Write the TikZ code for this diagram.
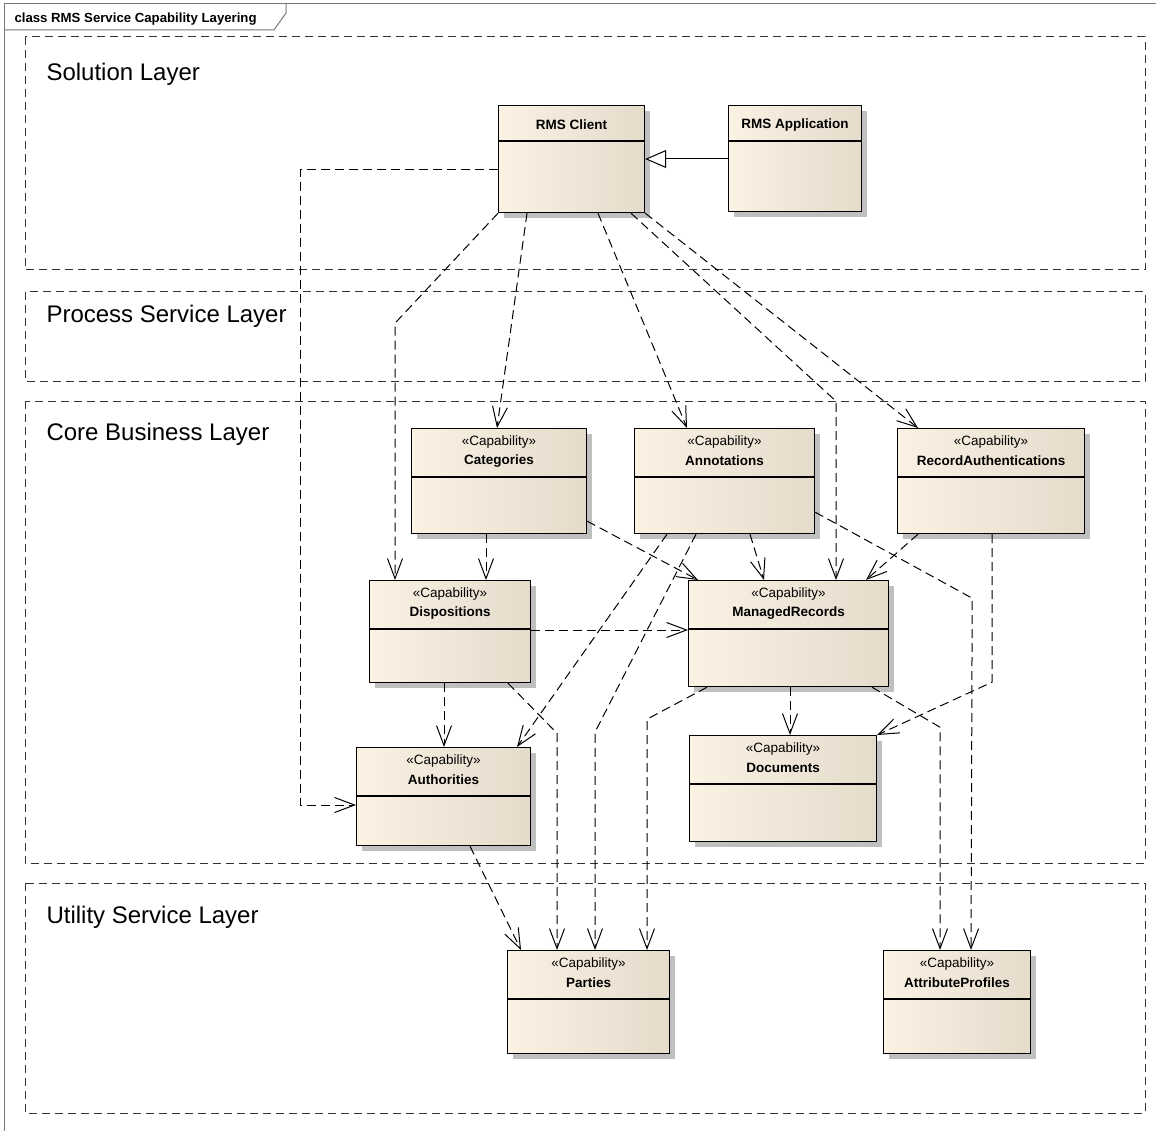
\documentclass[tikz,border=0pt]{standalone}
\usepackage{fontspec}
\setmainfont{Liberation Sans}
\usetikzlibrary{arrows.meta,shadows,calc,positioning}
\definecolor{boxlight}{RGB}{251,242,228}
\definecolor{boxdark}{RGB}{229,219,203}
\definecolor{framegray}{RGB}{120,120,120}

\begin{document}
\begin{tikzpicture}[x=1pt,y=-1pt,line join=round,
	layer/.style={draw=black!80,line width=1pt,dash pattern=on 8pt off 5pt},
	layertext/.style={anchor=base west,font=\fontsize{24}{28}\selectfont},
	classbox/.style={draw,line width=1.2pt,left color=boxlight,right color=boxdark,anchor=north west,inner sep=0pt,
		drop shadow={shadow xshift=5pt,shadow yshift=-5pt,fill=black!25,opacity=1}},
	stereo/.style={font=\fontsize{13.5}{15}\selectfont},
	cname/.style={font=\bfseries\fontsize{13.5}{15}\selectfont},
	dep/.style={line width=1pt,dash pattern=on 9pt off 5pt,-{Straight Barb[length=20pt,width=15pt]}},
	gen/.style={line width=1pt,-{Triangle[open,length=21pt,width=18pt,fill=white]}}]
		\useasboundingbox (0,0) rectangle (1156,1131);
		% frame
		\draw[framegray,line width=1pt] (4,1131) -- (4,4) -- (1156,4);
		\draw[framegray,line width=1pt] (4,30) -- (274,30) -- (286,13) -- (286,4);
		\node[anchor=base west,font=\bfseries\fontsize{13.2}{15}\selectfont] (title) at (11,23) {class RMS Service Capability Layering};
		% layers
		\draw[layer] (25,37) rectangle (1145,270);
		\draw[layer] (25,292) rectangle (1145,381);
		\draw[layer] (25,401) rectangle (1145,863);
		\draw[layer] (25,883) rectangle (1145,1113);
		\node[layertext] (solL) at (43,81) {Solution Layer};
		\node[layertext] (proL) at (43,323) {Process Service Layer};
		\node[layertext] (corL) at (43,440) {Core Business Layer};
		\node[layertext] (utiL) at (43,923) {Utility Service Layer};
		% classes
		\foreach \n/\x/\y/\w/\h/\t in {cli/498/105/146/107/RMS Client, app/728/105/133/106/RMS Application}{
			\node[classbox,minimum width={\w pt},minimum height={\h pt}] (\n) at (\x,\y) {};
			\draw[line width=1.1pt] ([yshift=-36pt]\n.north west) -- ([yshift=-36pt]\n.north east);
			\node[cname] at ([yshift=-20pt]\n.north) {\t};
		}
		\foreach \n/\x/\y/\w/\h/\t in {cat/411/428/175/105/Categories, ann/634/428/180/105/Annotations,
			rau/897/428/187/105/RecordAuthentications, dis/369/580/161/102/Dispositions,
			mrc/688/580/200/106/ManagedRecords, aut/356/747/174/98/Authorities,
			doc/689/735/187/106/Documents, par/507/950/162/103/Parties, atp/883/950/147/103/AttributeProfiles}{
			\node[classbox,minimum width={\w pt},minimum height={\h pt}] (\n) at (\x,\y) {};
			\draw[line width=1.1pt] ([yshift=-49pt]\n.north west) -- ([yshift=-49pt]\n.north east);
			\node[stereo] at ([yshift=-14pt]\n.north) {«Capability»};
			\node[cname] at ([yshift=-33pt]\n.north) {\t};
		}
		% connectors
		\draw[gen] ([yshift=-54pt]app.north west) -- ([yshift=-54pt]cli.north east);
		\draw[dep] ([yshift=-65pt]cli.north west) -- ++(-198,0) |- ([yshift=-58pt]aut.north west);
		\draw[dep] (cli.south west) -- ++(-103,110) -- ([xshift=26pt]dis.north west);
		\draw[dep] ([xshift=29pt]cli.south west) -- ([xshift=86pt]cat.north west);
		\draw[dep] ([xshift=100pt]cli.south west) -- ([xshift=53pt]ann.north west);
		\draw[dep] ([xshift=133pt]cli.south west) -- ++(205,188) -- ([xshift=148pt]mrc.north west);
		\draw[dep] (cli.south east) -- ([xshift=21pt]rau.north west);
		\draw[dep] ([xshift=75pt]cat.south west) -- ([xshift=117pt]dis.north west);
		\draw[dep] ([yshift=13pt]cat.south east) -- ([xshift=10pt]mrc.north west);
		\draw[dep] ([xshift=116pt]ann.south west) -- ([xshift=76pt]mrc.north west);
		\draw[dep] ([xshift=21pt]rau.south west) -- ([xshift=178pt]mrc.north west);
		\draw[dep] ([xshift=33pt]ann.south west) -- ([xshift=161pt]aut.north west);
		\draw[dep] ([xshift=62pt]ann.south west) -- ++(-101,198) -- ([xshift=88pt]par.north west);
		\draw[dep] ([yshift=22pt]ann.south east) -- ++(157,86) -- ([xshift=88pt]atp.north west);
		\draw[dep] ([yshift=-50pt]dis.north east) -- ([yshift=-50pt]mrc.north west);
		\draw[dep] ([xshift=75pt]dis.south west) -- ([xshift=88pt]aut.north west);
		\draw[dep] ([xshift=139pt]dis.south west) -- ++(49,50) -- ([xshift=50pt]par.north west);
		\draw[dep] ([xshift=114pt]aut.south west) -- ([xshift=14pt]par.north west);
		\draw[dep] ([xshift=19pt]mrc.south west) -- ++(-60,32) -- ([xshift=140pt]par.north west);
		\draw[dep] ([xshift=102pt]mrc.south west) -- ([xshift=101pt]doc.north west);
		\draw[dep] ([xshift=184pt]mrc.south west) -- ++(68,40) -- ([xshift=57pt]atp.north west);
		\draw[dep] ([xshift=95pt]rau.south west) -- ++(0,148) -- (doc.north east);
\end{tikzpicture}
\end{document}
